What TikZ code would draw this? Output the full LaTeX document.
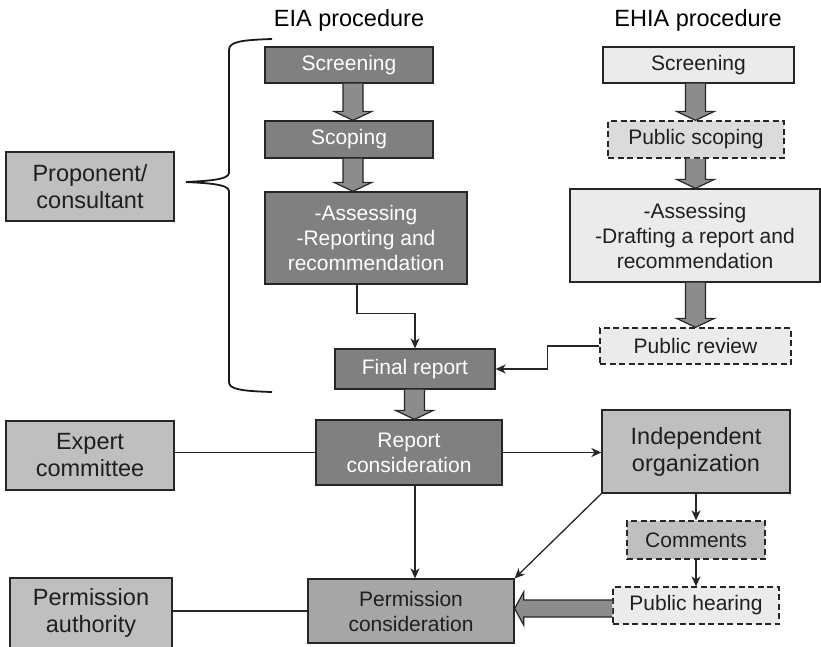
\documentclass[tikz,border=0pt]{standalone}
\usepackage{fontspec}
\setmainfont{Liberation Sans}
\usetikzlibrary{arrows.meta,calc}

\definecolor{darkfill}{gray}{0.50}
\definecolor{midfill}{gray}{0.65}
\definecolor{lightfill}{gray}{0.75}
\definecolor{scopefill}{gray}{0.86}
\definecolor{palefill}{gray}{0.92}
\definecolor{shaftfill}{gray}{0.55}
\definecolor{edge}{gray}{0.15}

\newcommand\fsz[2]{\fontsize{#1}{#2}\selectfont}

% broad block arrow pointing down: source node, target node, x of the shaft axis
\newcommand\fatdown[3]{%
  \filldraw[fatarrow] let \p1=(#1.south), \p2=(#2.north), \p3=(#3,0) in
    (\x3-10pt,\y1) -- (\x3-10pt,\y2+9pt) -- (\x3-19pt,\y2+9pt) -- (\x3,\y2)
    -- (\x3+19pt,\y2+9pt) -- (\x3+10pt,\y2+9pt) -- (\x3+10pt,\y1);}
% broad block arrow pointing left: source node, target node, y of the shaft axis
\newcommand\fatleft[3]{%
  \filldraw[fatarrow] let \p1=(#1.west), \p2=(#2.east), \p3=(0,#3) in
    (\x1,\y3+8.5pt) -- (\x2+9pt,\y3+8.5pt) -- (\x2+9pt,\y3+16.5pt) -- (\x2,\y3)
    -- (\x2+9pt,\y3-16.5pt) -- (\x2+9pt,\y3-8.5pt) -- (\x1,\y3-8.5pt);}

\tikzset{
  box/.style={draw=edge, line width=1.3pt, inner sep=0pt, align=center, text=black!88},
  eiabox/.style={box, fill=darkfill, text=white, font=\fsz{21}{25}},
  ehiabox/.style={box, fill=palefill, font=\fsz{21}{25}},
  publicbox/.style={box, dash pattern=on 6pt off 3.5pt},
  actor/.style={box, fill=lightfill, font=\fsz{23.5}{27}},
  title/.style={font=\fsz{23.5}{27}, anchor=base},
  link/.style={draw=edge, line width=1.3pt},
  arr/.style={link, -{Stealth[length=10pt,width=9pt,inset=3pt]}},
  fatarrow/.style={fill=shaftfill, draw=edge, line width=1.2pt, line join=miter},
  brace/.style={draw=black!90, line width=1.8pt}
}

\begin{document}
\begin{tikzpicture}[x=1pt,y=-1pt]
\useasboundingbox (0,0) rectangle (821,646);
\clip (0,0) rectangle (821,646);

% column titles
\node[title] (eiat)  at (349,26) {EIA procedure};
\node[title] (ehiat) at (698,26) {EHIA procedure};

% EIA chain
\node[eiabox, minimum width=168, minimum height=36] (s1) at (349,65) {Screening};
\node[eiabox, minimum width=168, minimum height=37] (s2) at (349,139.5) {Scoping};
\node[eiabox, minimum width=202, minimum height=92] (s3) at (366,238)
  {-Assessing\\-Reporting and\\recommendation};
\node[eiabox, minimum width=160, minimum height=40] (fr) at (415,369) {Final report};
\node[eiabox, minimum width=186, minimum height=65] (rc) at (409,452.5)
  {Report\\consideration};
\node[box, fill=midfill, font=\fsz{21}{25}, minimum width=206, minimum height=64]
  (pc) at (411,611) {Permission\\consideration};

% EHIA chain
\node[ehiabox, minimum width=191, minimum height=36] (e1) at (698.5,65) {Screening};
\node[ehiabox, publicbox, fill=scopefill, minimum width=176, minimum height=37]
  (e2) at (696,139.5) {Public scoping};
\node[ehiabox, minimum width=250, minimum height=93] (e3) at (695,235.5)
  {-Assessing\\-Drafting a report and\\recommendation};
\node[ehiabox, publicbox, minimum width=191, minimum height=36] (prv) at (695.5,346)
  {Public review};

% actors
\node[actor, minimum width=168, minimum height=69] (prop) at (90,186.5)
  {Proponent/\\consultant};
\node[actor, minimum width=168, minimum height=69] (expert) at (90,455.5)
  {Expert\\committee};
\node[actor, minimum width=162, minimum height=70] (pauth) at (91,613)
  {Permission\\authority};
\node[actor, minimum width=188, minimum height=83] (indep) at (696,451.5)
  {Independent\\organization};
\node[box, publicbox, fill=lightfill, font=\fsz{21}{25}, minimum width=138, minimum height=38]
  (comm) at (696,540) {Comments};
\node[box, publicbox, fill=palefill, font=\fsz{21}{25}, minimum width=166, minimum height=37]
  (ph) at (696,605.5) {Public hearing};

% block arrows
\fatdown{s1}{s2}{353}
\fatdown{s2}{s3}{353}
\fatdown{fr}{rc}{414.5}
\fatdown{e1}{e2}{695.5}
\fatdown{e2}{e3}{695.5}
\fatdown{e3}{prv}{695.5}
\fatleft{ph}{pc}{608.5}

% thin connectors
\draw[arr] ([xshift=-9pt]s3.south) -- ++(0,29) -| (fr.north);
\draw[arr] (prv.west) -- ++(-52,0) |- (fr.east);
\draw[link] (expert.east |- rc.west) -- (rc.west);
\draw[arr] (rc.east) -- (rc.east -| indep.west);
\draw[arr] (rc.south -| fr.south) -- (pc.north -| fr.south);
\draw[arr] (indep.south west) -- (pc.north east);
\draw[arr] (indep.south) -- (comm.north);
\draw[arr] (comm.south) -- (ph.north);
\draw[link] (pauth.east |- pc.west) -- (pc.west);

% curly brace gathering the proponent's steps
\coordinate (bracetip) at (186,182);
\draw[brace] (272,39) .. controls (240,40) and (229,42) .. (229,50)
  -- (229,173) .. controls (229,180) and (205,181) .. (bracetip)
  .. controls (205,183) and (229,184) .. (229,191)
  -- (229,382) .. controls (229,389) and (240,391) .. (272,392);
\end{tikzpicture}
\end{document}
